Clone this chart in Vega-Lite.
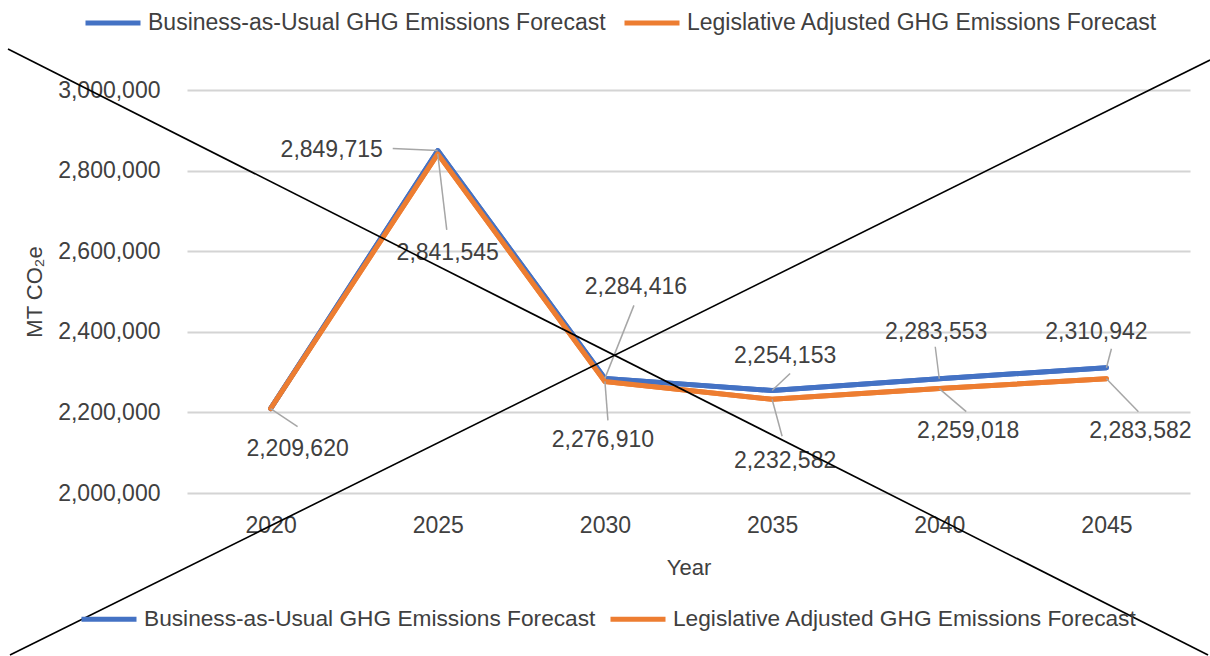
{
  "$schema": "https://vega.github.io/schema/vega-lite/v6.json",
  "width": 1003,
  "height": 403,
  "autosize": {"type": "none"},
  "padding": {"left": 187, "top": 90, "right": 20, "bottom": 163},
  "background": "white",
  "config": {
    "view": {"stroke": null},
    "font": "Liberation Sans",
    "axis": {"labelColor": "#404040", "titleColor": "#404040", "titleFontWeight": "normal", "labelFontSize": 23, "titleFontSize": 22, "ticks": false, "domain": false},
    "legend": {"symbolType": "stroke", "symbolSize": 3025, "symbolStrokeWidth": 5, "labelOffset": 5, "columnPadding": 8, "labelFontSize": 23, "labelColor": "#404040", "labelLimit": 1000, "direction": "horizontal", "columns": 2, "orient": "none", "title": null}
  },
  "datasets": {
    "series": [
      {"Year": 2020, "Series": "Business-as-Usual GHG Emissions Forecast", "Value": 2209620},
      {"Year": 2025, "Series": "Business-as-Usual GHG Emissions Forecast", "Value": 2849715},
      {"Year": 2030, "Series": "Business-as-Usual GHG Emissions Forecast", "Value": 2284416},
      {"Year": 2035, "Series": "Business-as-Usual GHG Emissions Forecast", "Value": 2254153},
      {"Year": 2040, "Series": "Business-as-Usual GHG Emissions Forecast", "Value": 2283553},
      {"Year": 2045, "Series": "Business-as-Usual GHG Emissions Forecast", "Value": 2310942},
      {"Year": 2020, "Series": "Legislative Adjusted GHG Emissions Forecast", "Value": 2209620},
      {"Year": 2025, "Series": "Legislative Adjusted GHG Emissions Forecast", "Value": 2841545},
      {"Year": 2030, "Series": "Legislative Adjusted GHG Emissions Forecast", "Value": 2276910},
      {"Year": 2035, "Series": "Legislative Adjusted GHG Emissions Forecast", "Value": 2232582},
      {"Year": 2040, "Series": "Legislative Adjusted GHG Emissions Forecast", "Value": 2259018},
      {"Year": 2045, "Series": "Legislative Adjusted GHG Emissions Forecast", "Value": 2283582}
    ],
    "cross": [
      {"Year": 2012.146, "Value": 3101737, "Year2": 2048.04, "Value2": 1598015},
      {"Year": 2012.205, "Value": 1598015, "Year2": 2048.1, "Value2": 3074442}
    ]
  },
  "data": {"name": "series"},
  "resolve": {"scale": {"color": "independent"}, "legend": {"color": "independent"}},
  "encoding": {
    "x": {"field": "Year", "type": "quantitative", "title": "Year",
      "scale": {"domain": [2017.5, 2047.5], "nice": false, "zero": false},
      "axis": {"values": [2020, 2025, 2030, 2035, 2040, 2045], "format": "d", "grid": false, "labelPadding": 21, "titlePadding": 20}},
    "y": {"field": "Value", "type": "quantitative", "title": "MT CO₂e",
      "scale": {"domain": [2000000, 3000000], "nice": false, "zero": false},
      "axis": {"values": [2000000, 2200000, 2400000, 2600000, 2800000, 3000000], "format": ",.0f", "grid": true, "gridColor": "#D4D4D4", "gridWidth": 2, "labelPadding": 27, "titlePadding": 11}}
  },
  "layer": [
    {
      "mark": {"type": "line", "strokeWidth": 5, "strokeCap": "round", "strokeJoin": "round"},
      "encoding": {
        "color": {"field": "Series", "type": "nominal",
          "scale": {"domain": ["Business-as-Usual GHG Emissions Forecast", "Legislative Adjusted GHG Emissions Forecast"], "range": ["#4472C4", "#ED7D31"]},
          "legend": {"legendX": -108, "legendY": 499, "labelFontSize": 22.7, "columnPadding": 4}}
      }
    },
    {
      "mark": {"type": "line", "strokeWidth": 5, "strokeCap": "round", "strokeJoin": "round"},
      "encoding": {
        "color": {"field": "Series", "type": "nominal",
          "scale": {"domain": ["Business-as-Usual GHG Emissions Forecast", "Legislative Adjusted GHG Emissions Forecast"], "range": ["#4472C4", "#ED7D31"]},
          "legend": {"legendX": -104, "legendY": -97}}
      }
    },
    {
      "transform": [{"filter": "datum.Year == 2020 && datum.Series == 'Legislative Adjusted GHG Emissions Forecast'"}],
      "layer": [
        {"mark": {"type": "rule", "color": "#A6A6A6", "strokeWidth": 1.5, "x2Offset": 27, "y2Offset": 18}, "encoding": {"x2": {"field": "Year"}, "y2": {"field": "Value"}}},
        {"mark": {"type": "text", "dx": 27, "dy": 40, "fontSize": 23, "color": "#404040", "align": "center", "baseline": "middle"}, "encoding": {"text": {"field": "Value", "type": "quantitative", "format": ","}}}
      ]
    },
    {
      "transform": [{"filter": "datum.Year == 2025 && datum.Series == 'Business-as-Usual GHG Emissions Forecast'"}],
      "layer": [
        {"mark": {"type": "rule", "color": "#A6A6A6", "strokeWidth": 1.5, "x2Offset": -45, "y2Offset": -2}, "encoding": {"x2": {"field": "Year"}, "y2": {"field": "Value"}}},
        {"mark": {"type": "text", "dx": -106, "dy": -1, "fontSize": 23, "color": "#404040", "align": "center", "baseline": "middle"}, "encoding": {"text": {"field": "Value", "type": "quantitative", "format": ","}}}
      ]
    },
    {
      "transform": [{"filter": "datum.Year == 2025 && datum.Series == 'Legislative Adjusted GHG Emissions Forecast'"}],
      "layer": [
        {"mark": {"type": "rule", "color": "#A6A6A6", "strokeWidth": 1.5, "x2Offset": 9, "y2Offset": 76}, "encoding": {"x2": {"field": "Year"}, "y2": {"field": "Value"}}},
        {"mark": {"type": "text", "dx": 10, "dy": 99, "fontSize": 23, "color": "#404040", "align": "center", "baseline": "middle"}, "encoding": {"text": {"field": "Value", "type": "quantitative", "format": ","}}}
      ]
    },
    {
      "transform": [{"filter": "datum.Year == 2030 && datum.Series == 'Business-as-Usual GHG Emissions Forecast'"}],
      "layer": [
        {"mark": {"type": "rule", "color": "#A6A6A6", "strokeWidth": 1.5, "x2Offset": 29, "y2Offset": -73}, "encoding": {"x2": {"field": "Year"}, "y2": {"field": "Value"}}},
        {"mark": {"type": "text", "dx": 31, "dy": -91, "fontSize": 23, "color": "#404040", "align": "center", "baseline": "middle"}, "encoding": {"text": {"field": "Value", "type": "quantitative", "format": ","}}}
      ]
    },
    {
      "transform": [{"filter": "datum.Year == 2030 && datum.Series == 'Legislative Adjusted GHG Emissions Forecast'"}],
      "layer": [
        {"mark": {"type": "rule", "color": "#A6A6A6", "strokeWidth": 1.5, "x2Offset": 3, "y2Offset": 39}, "encoding": {"x2": {"field": "Year"}, "y2": {"field": "Value"}}},
        {"mark": {"type": "text", "dx": -2, "dy": 59, "fontSize": 23, "color": "#404040", "align": "center", "baseline": "middle"}, "encoding": {"text": {"field": "Value", "type": "quantitative", "format": ","}}}
      ]
    },
    {
      "transform": [{"filter": "datum.Year == 2035 && datum.Series == 'Business-as-Usual GHG Emissions Forecast'"}],
      "layer": [
        {"mark": {"type": "rule", "color": "#A6A6A6", "strokeWidth": 1.5, "x2Offset": 18, "y2Offset": -17}, "encoding": {"x2": {"field": "Year"}, "y2": {"field": "Value"}}},
        {"mark": {"type": "text", "dx": 13, "dy": -35, "fontSize": 23, "color": "#404040", "align": "center", "baseline": "middle"}, "encoding": {"text": {"field": "Value", "type": "quantitative", "format": ","}}}
      ]
    },
    {
      "transform": [{"filter": "datum.Year == 2035 && datum.Series == 'Legislative Adjusted GHG Emissions Forecast'"}],
      "layer": [
        {"mark": {"type": "rule", "color": "#A6A6A6", "strokeWidth": 1.5, "x2Offset": 10, "y2Offset": 37}, "encoding": {"x2": {"field": "Year"}, "y2": {"field": "Value"}}},
        {"mark": {"type": "text", "dx": 13, "dy": 62, "fontSize": 23, "color": "#404040", "align": "center", "baseline": "middle"}, "encoding": {"text": {"field": "Value", "type": "quantitative", "format": ","}}}
      ]
    },
    {
      "transform": [{"filter": "datum.Year == 2040 && datum.Series == 'Business-as-Usual GHG Emissions Forecast'"}],
      "layer": [
        {"mark": {"type": "rule", "color": "#A6A6A6", "strokeWidth": 1.5, "x2Offset": -4, "y2Offset": -32}, "encoding": {"x2": {"field": "Year"}, "y2": {"field": "Value"}}},
        {"mark": {"type": "text", "dx": -3, "dy": -47, "fontSize": 23, "color": "#404040", "align": "center", "baseline": "middle"}, "encoding": {"text": {"field": "Value", "type": "quantitative", "format": ","}}}
      ]
    },
    {
      "transform": [{"filter": "datum.Year == 2040 && datum.Series == 'Legislative Adjusted GHG Emissions Forecast'"}],
      "layer": [
        {"mark": {"type": "rule", "color": "#A6A6A6", "strokeWidth": 1.5, "x2Offset": 27, "y2Offset": 23}, "encoding": {"x2": {"field": "Year"}, "y2": {"field": "Value"}}},
        {"mark": {"type": "text", "dx": 29, "dy": 42, "fontSize": 23, "color": "#404040", "align": "center", "baseline": "middle"}, "encoding": {"text": {"field": "Value", "type": "quantitative", "format": ","}}}
      ]
    },
    {
      "transform": [{"filter": "datum.Year == 2045 && datum.Series == 'Business-as-Usual GHG Emissions Forecast'"}],
      "layer": [
        {"mark": {"type": "rule", "color": "#A6A6A6", "strokeWidth": 1.5, "x2Offset": 5, "y2Offset": -19}, "encoding": {"x2": {"field": "Year"}, "y2": {"field": "Value"}}},
        {"mark": {"type": "text", "dx": -10, "dy": -36, "fontSize": 23, "color": "#404040", "align": "center", "baseline": "middle"}, "encoding": {"text": {"field": "Value", "type": "quantitative", "format": ","}}}
      ]
    },
    {
      "transform": [{"filter": "datum.Year == 2045 && datum.Series == 'Legislative Adjusted GHG Emissions Forecast'"}],
      "layer": [
        {"mark": {"type": "rule", "color": "#A6A6A6", "strokeWidth": 1.5, "x2Offset": 32, "y2Offset": 33}, "encoding": {"x2": {"field": "Year"}, "y2": {"field": "Value"}}},
        {"mark": {"type": "text", "dx": 34, "dy": 52, "fontSize": 23, "color": "#404040", "align": "center", "baseline": "middle"}, "encoding": {"text": {"field": "Value", "type": "quantitative", "format": ","}}}
      ]
    },
    {
      "data": {"name": "cross"},
      "mark": {"type": "rule", "color": "#000000", "strokeWidth": 1.6, "clip": false},
      "encoding": {
        "x": {"field": "Year", "type": "quantitative", "title": "Year",
          "scale": {"domain": [2017.5, 2047.5], "nice": false, "zero": false},
          "axis": {"values": [2020, 2025, 2030, 2035, 2040, 2045], "format": "d", "grid": false, "labelPadding": 21, "titlePadding": 20}},
        "y": {"field": "Value", "type": "quantitative", "title": "MT CO₂e",
          "scale": {"domain": [2000000, 3000000], "nice": false, "zero": false},
          "axis": {"values": [2000000, 2200000, 2400000, 2600000, 2800000, 3000000], "format": ",.0f", "grid": true, "gridColor": "#D4D4D4", "gridWidth": 2, "labelPadding": 27, "titlePadding": 11}},
        "x2": {"field": "Year2"},
        "y2": {"field": "Value2"}
      }
    }
  ]
}
